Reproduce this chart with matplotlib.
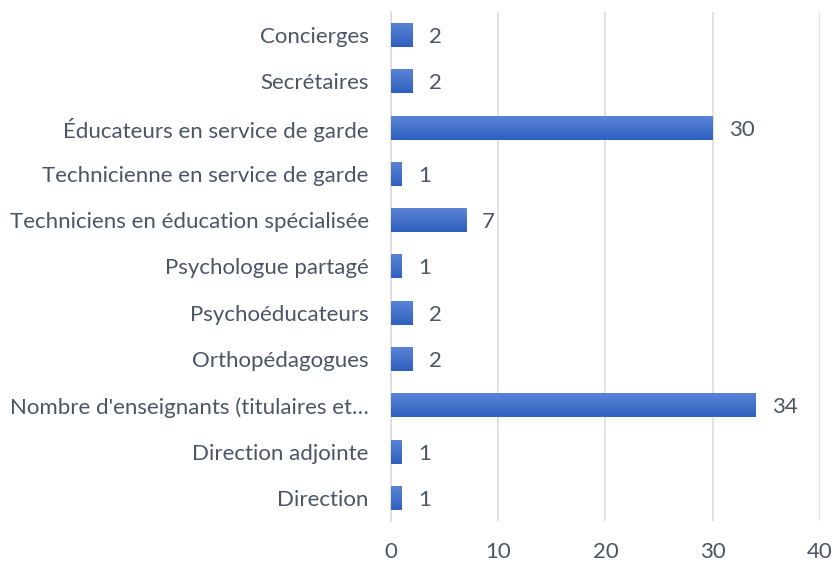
import numpy as np
import matplotlib.pyplot as plt
from matplotlib.colors import LinearSegmentedColormap

categories = ["Direction", "Direction adjointe", "Nombre d'enseignants (titulaires et…",
              "Orthopédagogues", "Psychoéducateurs", "Psychologue partagé",
              "Techniciens en éducation spécialisée", "Technicienne en service de garde",
              "Éducateurs en service de garde", "Secrétaires", "Concierges"]
values = [1, 1, 34, 2, 2, 1, 7, 1, 30, 2, 2]
xticks = [0, 10, 20, 30, 40]

plt.rcParams['font.family'] = ['Lato', 'DejaVu Sans']
text_color = '#4a5568'
fs = 16

fig = plt.figure(figsize=(8.34, 5.63), dpi=100)
ax = fig.add_axes([0.4688, 0.0746, 0.5144, 0.9044])

y = np.arange(len(categories))
bars = ax.barh(y, values, height=0.52, color='#4472c4', zorder=3)

# vertical gradient like the Excel bars
cmap = LinearSegmentedColormap.from_list('g', ['#2f5fbf', '#5b85d6'])
grad = np.linspace(0, 1, 64).reshape(-1, 1)
for b in bars:
    x0, y0 = b.get_x(), b.get_y()
    im = ax.imshow(grad, cmap=cmap, aspect='auto', origin='lower',
                   extent=[x0, x0 + b.get_width(), y0, y0 + b.get_height()], zorder=4)
    im.set_clip_path(b)

for yi, v in zip(y, values):
    ax.text(v + 1.5, yi, str(v), va='center_baseline', ha='left', fontsize=fs, color=text_color)

ax.set_xlim(0, 40)
ax.set_ylim(-0.5, len(categories) - 0.5)
ax.set_xticks(xticks)
ax.set_yticks(y)
ax.set_yticklabels(categories)
ax.tick_params(axis='y', length=0, pad=16, labelsize=fs, labelcolor=text_color)
ax.tick_params(axis='x', length=0, pad=15, labelsize=fs, labelcolor=text_color)
ax.grid(axis='x', color='#d9dde3', linewidth=1.2, zorder=0)
for s in ['top', 'right', 'bottom']:
    ax.spines[s].set_visible(False)
ax.spines['left'].set_color('#d9dde3')
ax.spines['left'].set_linewidth(1.2)

fig.savefig('out.png', dpi=100)
